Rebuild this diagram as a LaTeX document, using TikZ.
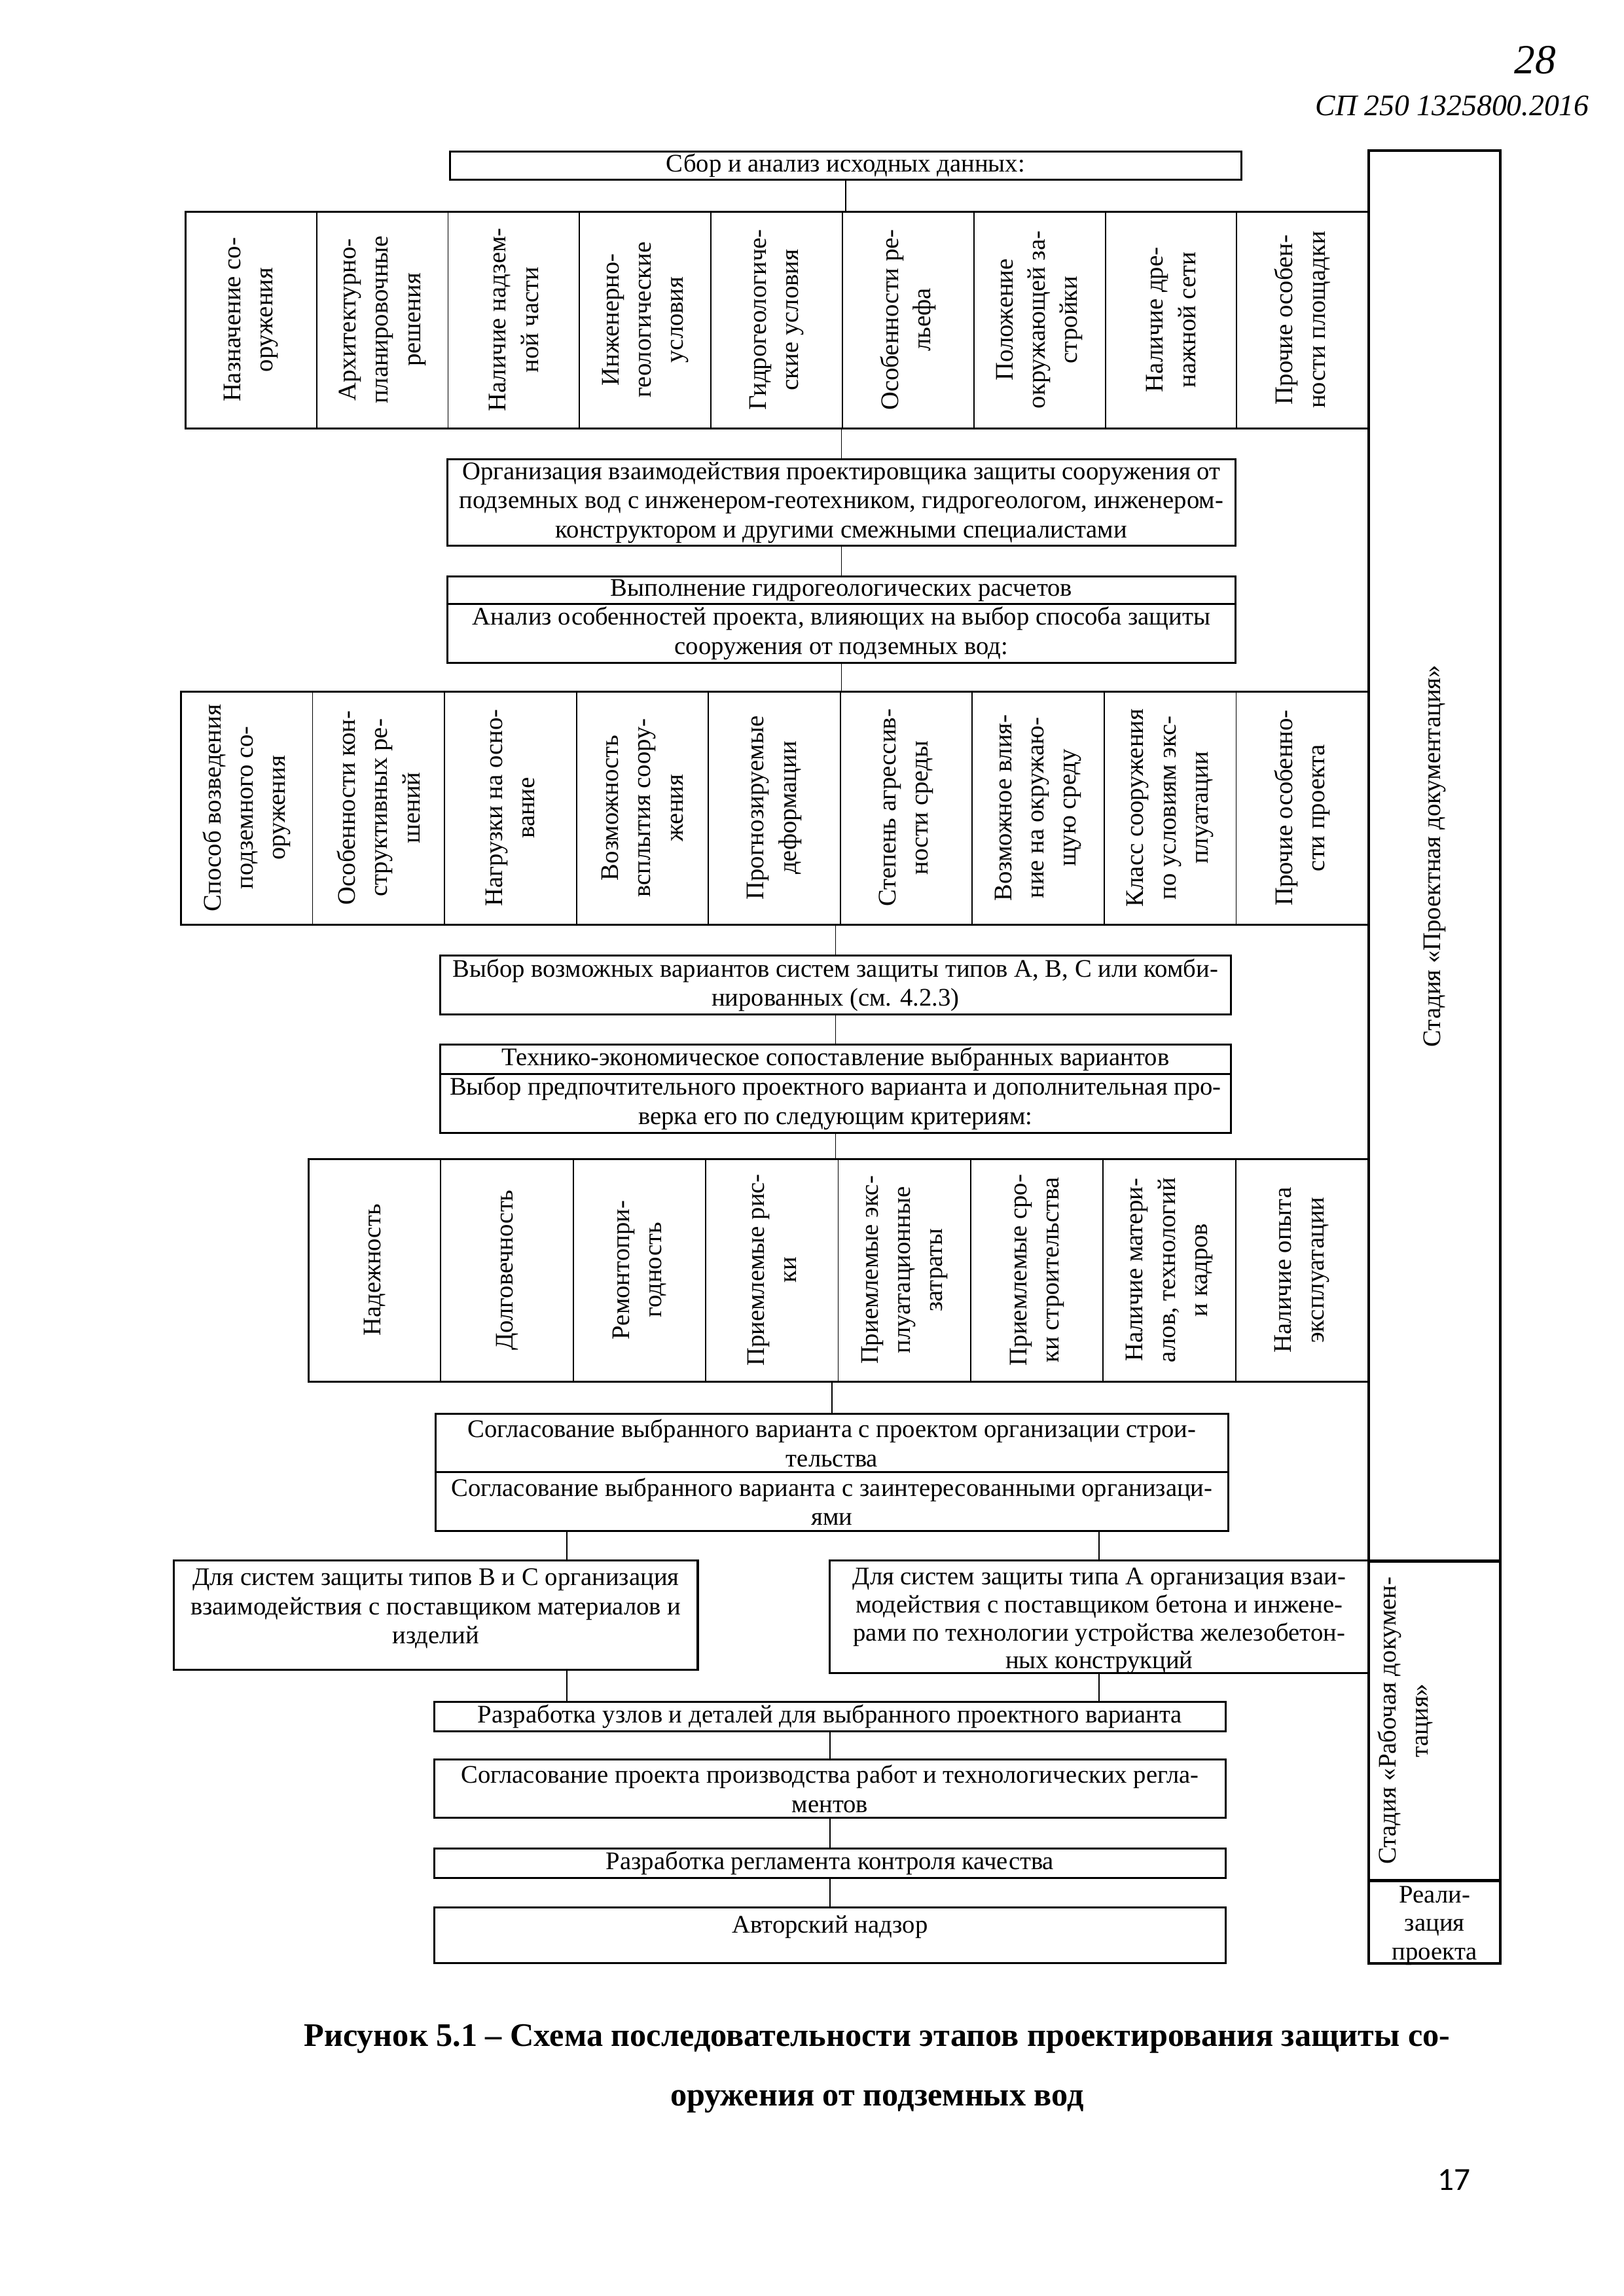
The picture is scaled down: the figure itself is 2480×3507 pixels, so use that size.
\documentclass[tikz,border=0pt]{standalone}
\usepackage{fontspec}
\setmainfont{Liberation Serif}
\newfontfamily\numfont{Carlito}
\begin{document}
\begin{tikzpicture}[x=0.01cm,y=-0.01cm,
  bx/.style={draw, line width=0.9pt, inner sep=0pt, anchor=north west},
  cbx/.style={draw, line width=0.5pt, inner sep=0pt, anchor=north west},
  tx/.style={font=\fontsize{11}{12.7}\selectfont, align=center, inner sep=0pt},
  vt/.style={font=\fontsize{11}{14}\selectfont, align=center, inner sep=0pt, rotate=90},
  ln/.style={line width=0.5pt}]
\path[use as bounding box, fill=white] (0,0) rectangle (2480,3507);

% handwritten marks
\node[font=\itshape\fontsize{18}{20}\selectfont] (hw1) at (2345,92) {28};
\node[font=\itshape\fontsize{13}{15}\selectfont, anchor=east] (hw2) at (2440,162) {СП 250 1325800.2016};

% top box
\node[bx, tx, minimum width=12.08cm, minimum height=0.43cm] (top) at (686,230) {Сбор и анализ исходных данных:};

% row 1
\foreach \t [count=\i] in {{Назначение со-\\оружения},{Архитектурно-\\планировочные\\решения},{Наличие надзем-\\ной части},{Инженерно-\\геологические\\условия},{Гидрогеологиче-\\ские условия},{Особенности ре-\\льефа},{Положение\\окружающей за-\\стройки},{Наличие дре-\\нажной сети},{Прочие особен-\\ности площадки}}{
  \node[cbx, minimum width=2.008cm, minimum height=3.31cm] (ra\i) at ({282+200.8*(\i-1)},322) {};
  \node[vt] (ta\i) at (ra\i.center) {\t};
}
\node[bx, minimum width=18.07cm, minimum height=3.31cm] (row1) at (282,322) {};

% organisation
\node[bx, tx, minimum width=12.03cm, minimum height=1.32cm] (org) at (682,700) {Организация взаимодействия проектировщика защиты сооружения от\\подземных вод с инженером-геотехником, гидрогеологом, инженером-\\конструктором и другими смежными специалистами};
\node[bx, tx, minimum width=12.03cm, minimum height=0.42cm] (vyp1) at (682,879) {Выполнение гидрогеологических расчетов};
\node[bx, tx, minimum width=12.03cm, minimum height=0.90cm] (vyp2) at (682,921) {Анализ особенностей проекта, влияющих на выбор способа защиты\\сооружения от подземных вод:};

% row 2
\foreach \t [count=\i] in {{Способ возведения\\подземного со-\\оружения},{Особенности кон-\\структивных ре-\\шений},{Нагрузки на осно-\\вание},{Возможность\\всплытия соору-\\жения},{Прогнозируемые\\деформации},{Степень агрессив-\\ности среды},{Возможное влия-\\ние на окружаю-\\щую среду},{Класс сооружения\\по условиям экс-\\плуатации},{Прочие особенно-\\сти проекта}}{
  \node[cbx, minimum width=2.0156cm, minimum height=3.56cm] (rb\i) at ({275+201.56*(\i-1)},1055) {};
  \node[vt] (tb\i) at (rb\i.center) {\t};
}
\node[bx, minimum width=18.14cm, minimum height=3.56cm] (row2) at (275,1055) {};

% choice
\node[bx, tx, minimum width=12.07cm, minimum height=0.90cm] (vybor) at (671,1458) {Выбор возможных вариантов систем защиты типов А, В, С или комби-\\нированных (см. 4.2.3)};
\node[bx, tx, minimum width=12.07cm, minimum height=0.45cm] (tech1) at (671,1594) {Технико-экономическое сопоставление выбранных вариантов};
\node[bx, tx, minimum width=12.07cm, minimum height=0.90cm] (tech2) at (671,1639) {Выбор предпочтительного проектного варианта и дополнительная про-\\верка его по следующим критериям:};

% row 3
\foreach \t [count=\i] in {{Надежность},{Долговечность},{Ремонтопри-\\годность},{Приемлемые рис-\\ки},{Приемлемые экс-\\плуатационные\\затраты},{Приемлемые сро-\\ки строительства},{Наличие матери-\\алов, технологий\\и кадров},{Наличие опыта\\эксплуатации}}{
  \node[cbx, minimum width=2.024cm, minimum height=3.40cm] (rc\i) at ({470+202.4*(\i-1)},1769) {};
  \node[vt] (tc\i) at (rc\i.center) {\t};
}
\node[bx, minimum width=16.19cm, minimum height=3.40cm] (row3) at (470,1769) {};

% agreement
\node[bx, tx, minimum width=12.10cm, minimum height=0.89cm] (sogl1) at (664,2158) {Согласование выбранного варианта с проектом организации строи-\\тельства};
\node[bx, tx, minimum width=12.10cm, minimum height=0.90cm] (sogl2) at (664,2247) {Согласование выбранного варианта с заинтересованными организаци-\\ями};

% two branches
\node[bx, minimum width=8.00cm, minimum height=1.67cm] (left) at (264,2382) {};
\node[tx, anchor=north] (leftt) at ([yshift=-0.13cm]left.north) {Для систем защиты типов В и С организация\\взаимодействия с поставщиком материалов и\\изделий};
\node[bx, minimum width=8.23cm, minimum height=1.72cm] (right) at (1266,2382) {};
\node[tx, font=\fontsize{11}{12.2}\selectfont, anchor=north] (rightt) at ([yshift=-0.12cm]right.north) {Для систем защиты типа А  организация взаи-\\модействия с поставщиком бетона и инжене-\\рами по технологии устройства железобетон-\\ных конструкций};

% lower chain
\node[bx, tx, minimum width=12.08cm, minimum height=0.45cm] (uzl) at (662,2598) {Разработка узлов и деталей для выбранного проектного варианта};
\node[bx, tx, minimum width=12.08cm, minimum height=0.89cm] (ppr) at (662,2686) {Согласование проекта производства работ и технологических регла-\\ментов};
\node[bx, tx, minimum width=12.08cm, minimum height=0.45cm] (regl) at (662,2822) {Разработка регламента контроля качества};
\node[bx, minimum width=12.08cm, minimum height=0.85cm] (avt) at (662,2912) {};
\node[tx, anchor=north] (avtt) at ([yshift=-0.13cm]avt.north) {Авторский надзор};

% stage column
\node[bx, line width=1.2pt, minimum width=2.01cm, minimum height=21.54cm] (st1) at (2089,228) {};
\node[vt] (st1t) at (st1.center) {Стадия «Проектная документация»};
\node[bx, line width=1.2pt, minimum width=2.01cm, minimum height=4.88cm] (st2) at (2089,2382) {};
\node[vt] (st2t) at ([xshift=-0.45cm]st2.center) {Стадия «Рабочая докумен-\\тация»};
\node[bx, line width=1.2pt, minimum width=2.01cm, minimum height=1.27cm] (st3) at (2089,2870) {};
\node[tx, font=\fontsize{11}{12.4}\selectfont, anchor=north] (st3t) at ([yshift=-0.1cm]st3.north) {Реали-\\зация\\проекта};

% connectors
\coordinate (cl) at (866,0);
\draw[ln] (top.south) -- (top.south |- row1.north);
\draw[ln] (org.north |- row1.south) -- (org.north);
\draw[ln] (org.south) -- (vyp1.north);
\draw[ln] (vyp2.south) -- (vyp2.south |- row2.north);
\draw[ln] (vybor.north |- row2.south) -- (vybor.north);
\draw[ln] (vybor.south) -- (tech1.north);
\draw[ln] (tech2.south) -- (tech2.south |- row3.north);
\draw[ln] (sogl1.north |- row3.south) -- (sogl1.north);
\draw[ln] (sogl2.south -| cl) -- (left.north -| cl);
\draw[ln] (sogl2.south -| right.north) -- (right.north);
\draw[ln] (left.south -| cl) -- (uzl.north -| cl);
\draw[ln] (right.south) -- (uzl.north -| right.south);
\draw[ln] (uzl.south) -- (ppr.north);
\draw[ln] (ppr.south) -- (regl.north);
\draw[ln] (regl.south) -- (avt.north);

% caption and page number
\node[font=\fontsize{14.3}{26}\selectfont\bfseries, align=center] (cap) at (1340,3160) {Рисунок 5.1 – Схема последовательности этапов проектирования защиты со-\\оружения от подземных вод};
\node[font=\numfont\fontsize{14}{16}\selectfont] (pg) at (2221,3330) {17};
\end{tikzpicture}
\end{document}
